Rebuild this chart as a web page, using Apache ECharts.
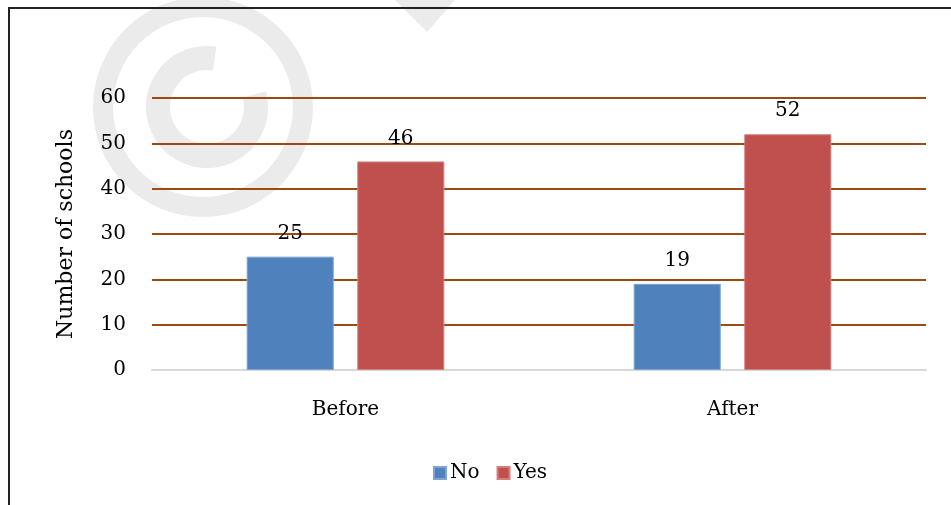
<!DOCTYPE html>
<html>
<head>
<meta charset="utf-8">
<script src="https://cdn.jsdelivr.net/npm/echarts@6/dist/echarts.min.js"></script>
<style>
  html, body { margin: 0; padding: 0; background: #fff; }
  #chart { width: 951px; height: 505px; }
</style>
</head>
<body>
<div id="chart"></div>
<script>
// Survey answers per period
const categories = ['Before', 'After'];
const noValues = [25, 19];
const yesValues = [46, 52];
const seriesNames = ['No', 'Yes'];
const yTicks = [0, 10, 20, 30, 40, 50, 60];

const FONT = 'DejaVu Serif';
const chart = echarts.init(document.getElementById('chart'), null, { renderer: 'canvas' });

const labelStyle = {
  show: true,
  position: 'top',
  distance: 13,
  fontFamily: FONT,
  fontSize: 20,
  color: '#000'
};

const deg = Math.PI / 180;

chart.setOption({
  animation: false,
  backgroundColor: '#fff',
  graphic: [
    // faint copyright mark in the background
    { type: 'ring', z: -10, shape: { cx: 203, cy: 107, r: 110, r0: 90 }, style: { fill: '#ebebeb' } },
    { type: 'arc', z: -10, shape: { cx: 207, cy: 107, r: 49, startAngle: -15 * deg, endAngle: 279 * deg, clockwise: true },
      style: { stroke: '#ebebeb', lineWidth: 24, fill: null, lineCap: 'butt' } },
    { type: 'polygon', z: -10, shape: { points: [[395, 0], [455, 0], [427, 32]] }, style: { fill: '#ebebeb' } },
    // frame
    { type: 'polyline', z: 10, shape: { points: [[9, 505], [9, 8], [951, 8]] }, style: { stroke: '#222', lineWidth: 2, fill: null } }
  ],
  legend: {
    data: seriesNames,
    top: 458,
    left: 428,
    itemWidth: 12,
    itemHeight: 12,
    itemGap: 17,
    icon: 'rect',
    textStyle: { fontFamily: FONT, fontSize: 20, color: '#000', padding: [0, 0, 0, -1] }
  },
  grid: { left: 152, right: 25, top: 98, bottom: 135, containLabel: false },
  xAxis: {
    type: 'category',
    data: categories,
    axisLine: { lineStyle: { color: '#d9d9d9', width: 2 } },
    axisTick: { show: false },
    axisLabel: { fontFamily: FONT, fontSize: 20, color: '#000', margin: 30 }
  },
  yAxis: {
    type: 'value',
    min: yTicks[0],
    max: yTicks[yTicks.length - 1],
    interval: 10,
    name: 'Number of schools',
    nameLocation: 'middle',
    nameGap: 75,
    nameTextStyle: { fontFamily: FONT, fontSize: 22, color: '#000' },
    axisLine: { show: false },
    axisTick: { show: false },
    axisLabel: { fontFamily: FONT, fontSize: 20, color: '#000', margin: 26 },
    splitLine: { lineStyle: { color: '#9c4a12', width: 2 } }
  },
  series: [
    {
      name: seriesNames[0],
      type: 'bar',
      data: noValues,
      barWidth: '22.5%',
      barGap: '27%',
      itemStyle: { color: '#4f81bd', borderColor: '#7fa3d1', borderWidth: 1 },
      label: labelStyle
    },
    {
      name: seriesNames[1],
      type: 'bar',
      data: yesValues,
      barWidth: '22.5%',
      itemStyle: { color: '#c0504d', borderColor: '#d47f7c', borderWidth: 1 },
      label: labelStyle
    }
  ]
});
</script>
</body>
</html>
